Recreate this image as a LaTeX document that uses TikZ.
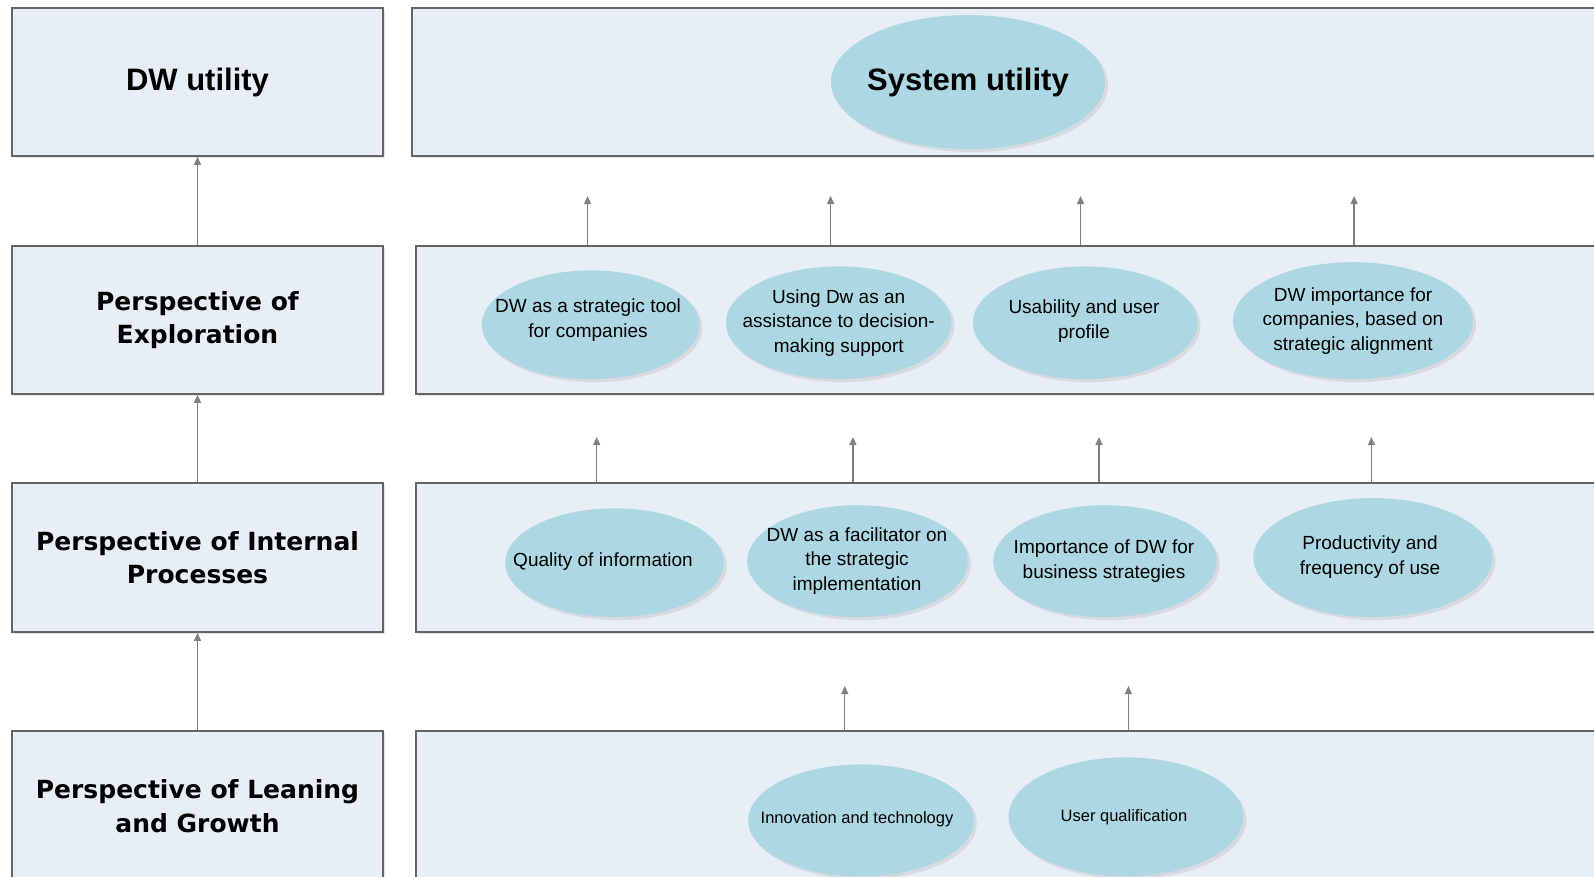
\documentclass[tikz,border=0pt]{standalone}
\usepackage{fontspec}
\setmainfont{Liberation Sans}
\newfontfamily\widebold{DejaVu Sans}
\usetikzlibrary{shapes.geometric,arrows.meta,shadows}

\definecolor{panel}{RGB}{232,238,246}
\definecolor{bubble}{RGB}{173,216,227}
\definecolor{rim}{RGB}{100,100,100}
\definecolor{link}{RGB}{128,128,128}

\tikzset{
  panelbox/.style={draw=rim, line width=1.6pt, fill=panel, inner sep=0pt,
    drop shadow={shadow xshift=1.5pt, shadow yshift=-1.5pt, fill=black!20}},
  sidebox/.style={panelbox, minimum width=371pt, align=center,
    font=\widebold\bfseries\fontsize{25}{33.5}\selectfont},
  widebox/.style={panelbox, minimum width=1188pt, minimum height=148pt},
  bubblenode/.style={ellipse, fill=bubble, inner sep=0pt,
    drop shadow={shadow xshift=3pt, shadow yshift=-3pt, fill=black!22}},
  bubbletext/.style={align=center, inner sep=0pt,
    font=\fontsize{19}{24.4}\selectfont},
  smalltext/.style={bubbletext, font=\fontsize{16.5}{20}\selectfont},
  uparrow/.style={draw=link, line width=1.3pt,
    -{Triangle[length=8pt,width=7pt]}},
}

\begin{document}
\begin{tikzpicture}[x=1pt, y=-1pt]
  \useasboundingbox (0,0) rectangle (1594,876);
  \clip (0,0) rectangle (1594,876);
  \fill[white] (0,0) rectangle (1594,876);

  % left column of perspectives
  \node[sidebox, minimum height=148pt] (L1) at (197.5,82)
    {\normalfont\bfseries\fontsize{31}{36}\selectfont DW utility};
  \node[sidebox, minimum height=148pt] (L2) at (197.5,320)
    {Perspective of\\Exploration};
  \node[sidebox, minimum height=149pt] (L3) at (197.5,557.5)
    {Perspective of Internal\\Processes};
  \node[sidebox, minimum height=148pt] (L4) at (197.5,805) {};
  \node[align=center, font=\widebold\bfseries\fontsize{25}{33.5}\selectfont]
    (L4t) at (197.5,806) {Perspective of Leaning\\and Growth};

  % wide panels on the right
  \node[widebox] (R1) at (1006,82) {};
  \node[widebox, minimum width=1184pt] (R2) at (1008,320) {};
  \node[widebox, minimum width=1184pt, minimum height=149pt] (R3) at (1008,557.5) {};
  \node[widebox, minimum width=1184pt] (R4) at (1008,805) {};

  % arrows between the left boxes
  \draw[uparrow] (L2.north) -- (L1.south);
  \draw[uparrow] (L3.north) -- (L2.south);
  \draw[uparrow] (L4.north) -- (L3.south);

  % system utility
  \node[bubblenode, minimum width=274pt, minimum height=134pt] (S) at (968,82) {};
  \node[font=\bfseries\fontsize{31}{36}\selectfont] (St) at (S) {System utility};

  % exploration
  \node[bubblenode, minimum width=217.6pt, minimum height=108.8pt] (E1) at (590.6,324.8) {};
  \node[bubbletext] (E1t) at (588,320) {DW as a strategic tool\\for companies};
  \node[bubblenode, minimum width=225.6pt, minimum height=112.8pt] (E2) at (838.7,322.8) {};
  \node[bubbletext] (E2t) at (E2) {Using Dw as an\\assistance to decision-\\making support};
  \node[bubblenode, minimum width=224.6pt, minimum height=112.8pt] (E3) at (1085.2,322.8) {};
  \node[bubbletext] (E3t) at (1084,321) {Usability and user\\profile};
  \node[bubblenode, minimum width=240pt, minimum height=117pt] (E4) at (1353,320.7) {};
  \node[bubbletext] (E4t) at (E4) {DW importance for\\companies, based on\\strategic alignment};

  % internal processes
  \node[bubblenode, minimum width=218.6pt, minimum height=108.8pt] (P1) at (614.5,562.7) {};
  \node[bubbletext] (P1t) at (603,562) {Quality of information};
  \node[bubblenode, minimum width=220.6pt, minimum height=112pt] (P2) at (857.5,561.2) {};
  \node[bubbletext] (P2t) at (857,561) {DW as a facilitator on\\the strategic\\implementation};
  \node[bubblenode, minimum width=223.6pt, minimum height=112pt] (P3) at (1105,561.2) {};
  \node[bubbletext] (P3t) at (1104,561) {Importance of DW for\\business strategies};
  \node[bubblenode, minimum width=239pt, minimum height=119pt] (P4) at (1372.9,557.6) {};
  \node[bubbletext] (P4t) at (1370,557) {Productivity and\\frequency of use};

  % learning and growth
  \node[bubblenode, minimum width=225.6pt, minimum height=112pt] (G1) at (861,820.4) {};
  \node[smalltext] (G1t) at (857,819) {Innovation and technology};
  \node[bubblenode, minimum width=234.8pt, minimum height=119pt] (G2) at (1125.9,816.8) {};
  \node[smalltext] (G2t) at (1124,817) {User qualification};

  % free ends of the arrows on the right
  \coordinate (a1) at (587.6,196);
  \coordinate (a2) at (830.6,196);
  \coordinate (a3) at (1080.6,196);
  \coordinate (a4) at (1354.1,196);
  \coordinate (b1) at (596.7,437);
  \coordinate (b2) at (852.9,437);
  \coordinate (b3) at (1099,437);
  \coordinate (b4) at (1371.4,437);
  \coordinate (c1) at (844.8,686);
  \coordinate (c2) at (1128.4,686);

  \foreach \t in {a1,a2,a3,a4}
    \draw[uparrow] (\t |- R2.north) -- (\t);
  \foreach \t in {b1,b2,b3,b4}
    \draw[uparrow] (\t |- R3.north) -- (\t);
  \foreach \t in {c1,c2}
    \draw[uparrow] (\t |- R4.north) -- (\t);
\end{tikzpicture}
\end{document}
